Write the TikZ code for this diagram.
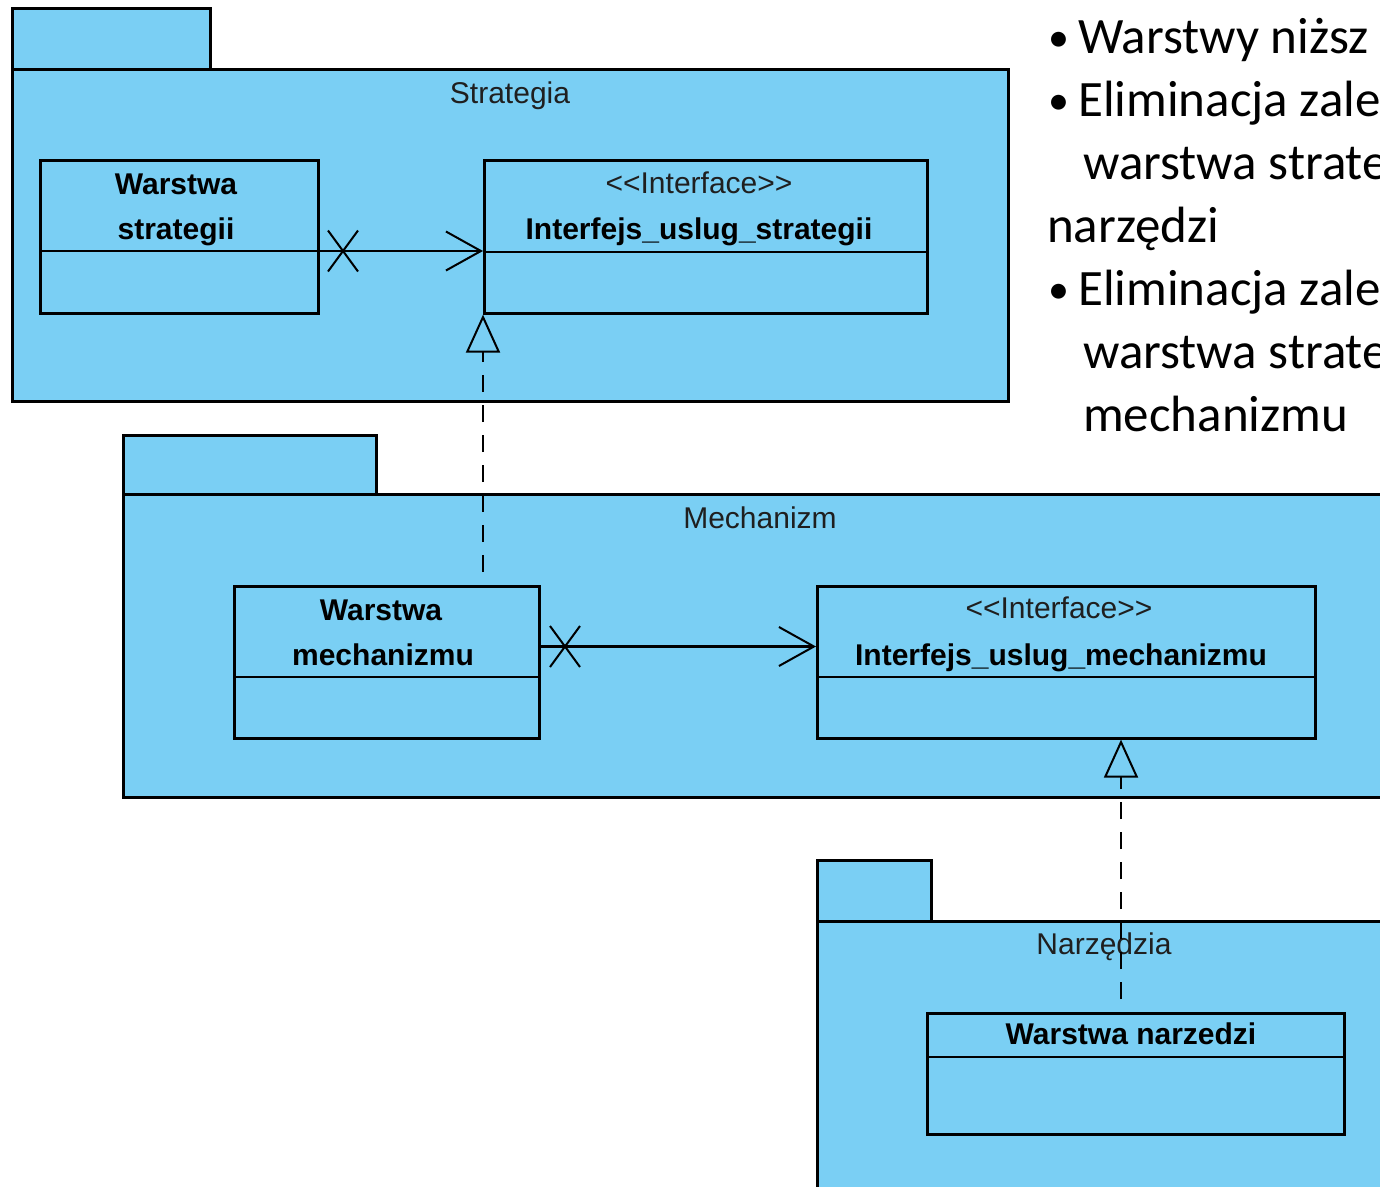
\documentclass[tikz,border=0pt]{standalone}
\usepackage{fontspec}
\setmainfont{Liberation Sans}
\newfontfamily\slidefont{Carlito}
\usetikzlibrary{arrows.meta,shapes.misc}
\definecolor{pkgblue}{RGB}{122,207,244}
\begin{document}
\begin{tikzpicture}[x=1pt,y=-1pt,
  pkg/.style={draw=black, fill=pkgblue, line width=3pt, rectangle, inner sep=0pt, anchor=north west},
  cls/.style={draw=black, line width=2.6pt, rectangle, inner sep=0pt, anchor=north west},
  lbl/.style={font=\fontsize{30}{36}\selectfont, inner sep=0pt, anchor=base, text=black!88},
  blbl/.style={font=\bfseries\fontsize{30}{36}\selectfont, inner sep=0pt, anchor=base, text=black},
  divider/.style={draw=black, line width=2.6pt},
  assoc/.style={draw=black, line width=2.6pt, -{Straight Barb[length=35pt,width=39pt,line width=2pt]}},
  xmark/.style={draw=black, cross out, line width=2pt, minimum width=28pt, minimum height=39pt, inner sep=0pt},
  realize/.style={draw=black, line width=2pt, dash pattern=on 17pt off 13pt, dash phase=17pt,
    -{Triangle[open, length=38pt, width=34pt, line width=2pt]}},
  slide/.style={font=\slidefont\fontsize{51}{63}\selectfont, inner sep=0pt, anchor=base west, text=black},
  bullet/.style={font=\slidefont\fontsize{42}{63}\selectfont, inner sep=0pt, anchor=base west, text=black}
]
\useasboundingbox (0,0) rectangle (1380,1186);
\clip (0,0) rectangle (1380,1186);

% Packages
\node[pkg, minimum width=198pt, minimum height=61pt] (stab) at (11,7) {};
\node[pkg, minimum width=996pt, minimum height=332pt] (sbody) at (11,68) {};
\node[pkg, minimum width=253pt, minimum height=59pt] (mtab) at (122,434) {};
\node[pkg, minimum width=1300pt, minimum height=303pt] (mbody) at (122,493) {};
\node[pkg, minimum width=114pt, minimum height=61pt] (ntab) at (816,859) {};
\node[pkg, minimum width=600pt, minimum height=320pt] (nbody) at (816,920) {};

\node[lbl] (slabel) at (510,103) {Strategia};
\node[lbl] (mlabel) at (760,528) {Mechanizm};
\node[lbl] (nlabel) at (1104,954) {Narzędzia};

% Classes
\node[cls, minimum width=278pt, minimum height=153pt] (ws) at (39,159) {};
\node[cls, minimum width=443pt, minimum height=153pt] (is) at (483,159) {};
\node[cls, minimum width=305pt, minimum height=152pt] (wm) at (233,585) {};
\node[cls, minimum width=498pt, minimum height=152pt] (im) at (816,585) {};
\node[cls, minimum width=417pt, minimum height=121pt] (wn) at (926,1012) {};

\draw[divider] ([yshift=-92pt]ws.north west) -- ([yshift=-92pt]ws.north east);
\draw[divider] ([yshift=-93pt]is.north west) -- ([yshift=-93pt]is.north east);
\draw[divider] ([yshift=-92pt]wm.north west) -- ([yshift=-92pt]wm.north east);
\draw[divider] ([yshift=-92pt]im.north west) -- ([yshift=-92pt]im.north east);
\draw[divider] ([yshift=-45pt]wn.north west) -- ([yshift=-45pt]wn.north east);

\node[blbl] (ws1) at (176,194) {Warstwa};
\node[blbl] (ws2) at (176,239) {strategii};
\node[lbl] (is1) at (699,193) {<{}<Interface>{}>};
\node[blbl] (is2) at (699,239) {Interfejs\_uslug\_strategii};
\node[blbl] (wm1) at (381,620) {Warstwa};
\node[blbl] (wm2) at (383,665) {mechanizmu};
\node[lbl] (im1) at (1059,618) {<{}<Interface>{}>};
\node[blbl] (im2) at (1061,665) {Interfejs\_uslug\_mechanizmu};
\node[blbl] (wn1) at (1131,1044) {Warstwa narzedzi};

% Associations
\draw[assoc] ([yshift=-92pt]ws.north east) -- ([yshift=-92pt]is.north west);
\node[xmark] (x1) at (343,251) {};
\draw[assoc] ([yshift=-61.5pt]wm.north east) -- ([yshift=-61.5pt]im.north west);
\node[xmark] (x2) at (565,646.5) {};

% Realizations
\draw[realize] ([xshift=250pt]wm.north west) -- (is.south west);
\draw[realize] ([xshift=195pt]wn.north west) -- ([xshift=305pt]im.south west);

% Slide text
\node[bullet] (b1) at (1048,51) {•};
\node[slide] (t1) at (1078,53) {Warstwy niższ};
\node[bullet] (b2) at (1048,114) {•};
\node[slide] (t2) at (1078,116) {Eliminacja zale};
\node[slide] (t3) at (1083,179) {warstwa strate};
\node[slide] (t4) at (1047,242) {narzędzi};
\node[bullet] (b5) at (1048,303) {•};
\node[slide] (t5) at (1078,305) {Eliminacja zale};
\node[slide] (t6) at (1083,368) {warstwa strate};
\node[slide] (t7) at (1083,431) {mechanizmu};
\end{tikzpicture}
\end{document}
